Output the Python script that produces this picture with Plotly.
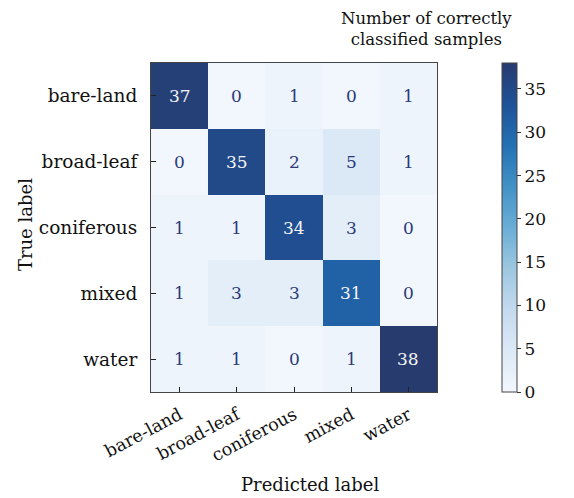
import plotly.graph_objects as go

# Confusion matrix of the land-cover classifier
classes = ["bare-land", "broad-leaf", "coniferous", "mixed", "water"]
matrix = [
    [37, 0, 1, 0, 1],
    [0, 35, 2, 5, 1],
    [1, 1, 34, 3, 0],
    [1, 3, 3, 31, 0],
    [1, 1, 0, 1, 38],
]
cbar_ticks = [0, 5, 10, 15, 20, 25, 30, 35]

FONT = "DejaVu Serif"
zmax = max(max(r) for r in matrix)

blues = [
    [0.0, "#f2f7fd"],
    [0.125, "#dce9f6"],
    [0.25, "#c4daee"],
    [0.375, "#9dc7e0"],
    [0.5, "#6aaed6"],
    [0.625, "#4292c6"],
    [0.75, "#2371b4"],
    [0.875, "#1f5297"],
    [1.0, "#273b6f"],
]

fig = go.Figure(
    go.Heatmap(
        z=matrix,
        x=classes,
        y=classes,
        zmin=0,
        zmax=zmax,
        colorscale=blues,
        xgap=0,
        ygap=0,
        hoverinfo="skip",
        colorbar=dict(
            thickness=15,
            len=1.0,
            lenmode="fraction",
            y=0.5,
            yanchor="middle",
            x=1.227,
            xanchor="left",
            xpad=0,
            ypad=0,
            outlinecolor="#444",
            outlinewidth=1,
            tickvals=cbar_ticks,
            ticks="outside",
            ticklen=4,
            tickcolor="#333",
            tickfont=dict(family=FONT, size=17, color="#111"),
        ),
    )
)

# value labels in each cell, light text on dark cells
for i, row in enumerate(matrix):
    for j, v in enumerate(row):
        fig.add_annotation(
            x=classes[j], y=classes[i], text=str(v), showarrow=False,
            font=dict(family=FONT, size=17,
                      color="#f4f4f4" if v > zmax / 2 else "#2a3a78"),
        )

# colorbar heading
fig.add_annotation(
    xref="paper", yref="paper", x=0.965, y=1.035,
    xanchor="center", yanchor="bottom", align="center", showarrow=False,
    text="Number of correctly<br>classified samples",
    font=dict(family=FONT, size=16.5, color="#111"),
)

# axis titles
fig.add_annotation(
    xref="paper", yref="paper", x=0.556, y=-0.28,
    xanchor="center", yanchor="middle", showarrow=False,
    text="Predicted label", font=dict(family=FONT, size=18, color="#111"),
)
fig.add_annotation(
    xref="paper", yref="paper", x=-0.441, y=0.51,
    xanchor="center", yanchor="middle", showarrow=False, textangle=-90,
    text="True label", font=dict(family=FONT, size=18, color="#111"),
)

axis_common = dict(
    showline=True, mirror=True, linecolor="#444", linewidth=1,
    ticks="inside", ticklen=5, tickcolor="#222",
    showgrid=False, zeroline=False, automargin=False,
)

fig.update_xaxes(
    **axis_common, tickangle=-28, ticklabelstandoff=5,
    tickfont=dict(family=FONT, size=17.5, color="#111"),
)
fig.update_yaxes(
    **axis_common, autorange="reversed", ticklabelstandoff=9,
    tickfont=dict(family=FONT, size=18.5, color="#111"),
)

fig.update_layout(
    width=574, height=498,
    margin=dict(l=151, r=137, t=63, b=106),
    paper_bgcolor="white", plot_bgcolor="white",
    font=dict(family=FONT),
)

fig.write_html("out.html")
